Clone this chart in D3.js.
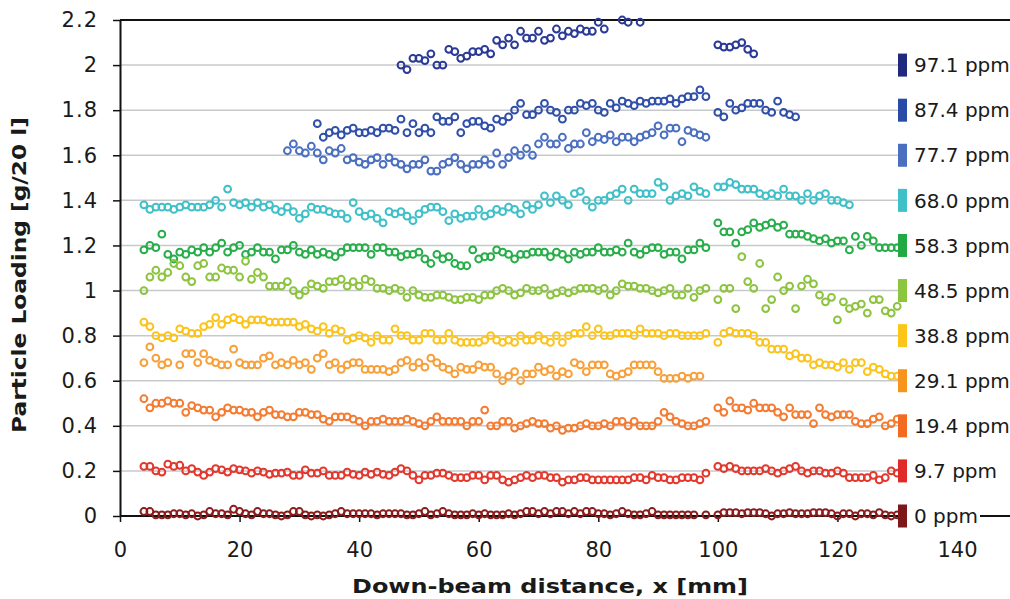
<!DOCTYPE html>
<html><head><meta charset="utf-8">
<script src="https://cdn.jsdelivr.net/npm/d3@7"></script>
<style>
body{margin:0;background:#fff}
svg{display:block}
text{font-family:"DejaVu Sans",Verdana,sans-serif;fill:#1a1a1a}
</style>
</head><body>
<svg id="chart" width="1010" height="599"></svg>
<script>
const _ = null;
// measurement positions (mm)
const xPositions = [4,5,6,7,8,9,10,11,12,13, 14,15,16,17,18,19,20,21,22,23, 24,25,26,27,28,29,30,31,32,33,
 34,35,36,37,38,39,40,41,42,43, 44,45,46,47,48,49,50,51,52,53, 54,55,56,57,58,59,60,61,62,63,
 64,65,66,67,68,69,70,71,72,73, 74,75,76,77,78,79,80,81,82,83, 84,85,86,87,88,89,90,91,92,93, 94,95,96,97,98,
 100,101,102,103,104,105,106,107,108,109, 110,111,112,113,114,115,116,117,118,119, 120,121,122,123,124,125,126,127,128,129,130];

const yTicks = [0,0.2,0.4,0.6,0.8,1,1.2,1.4,1.6,1.8,2,2.2];
const yTickLabels = ["0","0.2","0.4","0.6","0.8","1","1.2","1.4","1.6","1.8","2","2.2"];
const xTicks = [0,20,40,60,80,100,120,140];
const xTickLabels = ["0","20","40","60","80","100","120","140"];

const seriesNames = ["97.1 ppm","87.4 ppm","77.7 ppm","68.0 ppm","58.3 ppm","48.5 ppm","38.8 ppm","29.1 ppm","19.4 ppm","9.7 ppm","0 ppm"];
const legendLevels = [2.0,1.8,1.6,1.4,1.2,1.0,0.8,0.6,0.4,0.2,0];
const seriesColors = ["#2a3a96","#2f4fa8","#4a6fc0","#3fc0c8","#27ad49","#8cc43f","#fbc41c","#f7a03a","#f47c32","#e2382d","#8a1c1c"];
const legendColors = ["#1f2a7e","#2a4aa8","#4a6fc0","#3fc0c8","#22a845","#8cc63e","#fcc619","#f7941d","#f26b21","#e02a27","#7d1818"];

const s971 = [
 _,_,_,_,_,_,_,_,_,_, _,_,_,_,_,_,_,_,_,_, _,_,_,_,_,_,_,_,_,_,
 _,_,_,_,_,_,_,_,_,_, _,_,_,2.00,1.98,2.03,2.03,2.02,2.05,2.00,
 2.00,2.07,2.06,2.03,2.04,2.06,2.06,2.07,2.05,2.11, 2.09,2.12,2.09,2.15,2.12,2.12,2.15,2.11,2.12,2.16,
 2.13,2.15,2.14,2.16,2.15,2.15,2.19,2.16,_,_, 2.20,2.19,_,2.19,_,_,_,_,_,_, _,_,_,_,_,
 2.09,2.08,2.08,2.09,2.10,2.07,2.05,_,_,_, _,_,_,_,_,_,_,_,_,_, _,_,_,_,_,_,_,_,_,_,_];
const s874 = [
 _,_,_,_,_,_,_,_,_,_, _,_,_,_,_,_,_,_,_,_, _,_,_,_,_,_,_,_,_,1.74,
 1.68,1.70,1.71,1.69,1.71,1.72,1.70,1.70,1.71,1.70, 1.72,1.72,1.71,1.76,1.70,1.74,1.70,1.72,1.70,1.77,
 1.75,1.75,1.77,1.70,1.74,1.75,1.75,1.73,1.72,1.76, 1.75,1.77,1.80,1.83,1.78,1.78,1.80,1.83,1.80,1.79,
 1.76,1.80,1.80,1.83,1.82,1.83,1.80,1.79,1.83,1.81, 1.84,1.83,1.82,1.84,1.83,1.84,1.84,1.84,1.85,1.83, 1.85,1.86,1.86,1.89,1.86,
 1.79,1.77,1.83,1.80,1.81,1.83,1.83,1.83,1.80,1.79, 1.84,1.79,1.78,1.77,_,_,_,_,_,_, _,_,_,_,_,_,_,_,_,_,_];
const s777 = [
 _,_,_,_,_,_,_,_,_,_, _,_,_,_,_,_,_,_,_,_, _,_,_,_,1.62,1.65,1.62,1.61,1.64,1.61,
 1.58,1.62,1.61,1.63,1.58,1.59,1.57,1.56,1.58,1.59, 1.56,1.59,1.57,1.56,1.54,1.56,1.56,1.58,1.53,1.53,
 1.56,1.57,1.59,1.56,1.54,1.56,1.56,1.58,1.56,1.61, 1.56,1.59,1.62,1.60,1.63,1.60,1.65,1.68,1.65,1.65,
 1.68,1.63,1.65,1.65,1.70,1.66,1.68,1.67,1.69,1.66, 1.68,1.68,1.66,1.68,1.69,1.70,1.73,1.69,1.72,1.72, 1.66,1.71,1.70,1.69,1.68,
 _,_,_,_,_,_,_,_,_,_, _,_,_,_,_,_,_,_,_,_, _,_,_,_,_,_,_,_,_,_,_];
const s680 = [
 1.38,1.36,1.37,1.37,1.37,1.36,1.37,1.38,1.37,1.37, 1.37,1.38,1.40,1.37,1.45,1.39,1.38,1.39,1.37,1.39, 1.37,1.38,1.36,1.35,1.37,1.35,1.32,1.34,1.37,1.36,
 1.36,1.35,1.34,1.34,1.32,1.39,1.35,1.33,1.34,1.32, 1.30,1.35,1.34,1.35,1.33,1.31,1.34,1.36,1.37,1.37,
 1.35,1.31,1.34,1.32,1.33,1.33,1.36,1.33,1.34,1.36, 1.35,1.37,1.36,1.34,1.38,1.36,1.38,1.42,1.39,1.42,
 1.40,1.38,1.43,1.44,1.40,1.37,1.40,1.40,1.42,1.43, 1.45,1.40,1.45,1.43,1.43,1.43,1.48,1.46,1.40,1.42, 1.43,1.42,1.46,1.44,1.43,
 1.46,1.46,1.48,1.47,1.45,1.45,1.45,1.43,1.42,1.43, 1.42,1.45,1.42,1.42,1.40,1.43,1.40,1.42,1.43,1.40, 1.40,1.39,1.38,_,_,_,_,_,_,_,_];
const s583 = [
 1.18,1.20,1.19,1.25,1.16,1.14,1.17,1.16,1.18,1.17, 1.19,1.17,1.19,1.21,1.17,1.19,1.20,1.16,1.17,1.19, 1.17,1.17,1.14,1.18,1.18,1.20,1.17,1.16,1.18,1.16,
 1.17,1.16,1.15,1.17,1.19,1.19,1.19,1.19,1.16,1.19, 1.19,1.17,1.17,1.15,1.16,1.16,1.17,1.14,1.12,1.16,
 1.14,1.15,1.12,1.11,1.11,1.18,1.14,1.15,1.15,1.18, 1.17,1.16,1.14,1.16,1.16,1.17,1.17,1.17,1.15,1.17,
 1.16,1.14,1.17,1.16,1.17,1.17,1.19,1.17,1.17,1.18, 1.17,1.21,1.17,1.16,1.18,1.19,1.19,1.16,1.17,1.17, 1.14,1.18,1.18,1.21,1.19,
 1.30,1.26,1.26,1.21,1.26,1.27,1.30,1.28,1.29,1.30, 1.28,1.29,1.25,1.25,1.25,1.24,1.23,1.22,1.23,1.21, 1.22,1.22,1.18,1.24,1.20,1.24,1.22,1.19,1.19,1.19,1.19];
const s485 = [
 1.00,1.06,1.09,1.06,1.08,1.12,1.11,1.06,1.04,1.11, 1.12,1.06,1.06,1.10,1.09,1.09,1.06,1.13,1.05,1.08, 1.06,1.02,1.02,1.02,1.04,1.00,0.98,1.00,1.03,1.02,
 1.01,1.04,1.04,1.05,1.02,1.04,1.02,1.05,1.04,1.01, 1.01,1.00,1.01,1.00,0.97,1.00,0.98,0.97,0.97,0.98,
 0.98,0.97,0.96,0.96,0.97,0.97,0.96,0.98,0.98,1.00, 1.01,1.00,0.98,0.99,1.01,1.00,1.00,1.01,0.98,0.99,
 1.00,0.99,1.00,1.01,1.01,1.01,1.00,1.01,0.98,1.00, 1.03,1.02,1.02,1.01,1.01,1.00,0.99,1.00,1.01,0.98, 0.98,1.01,0.97,1.00,1.01,
 0.96,1.01,1.01,0.92,1.15,1.04,1.01,1.12,0.92,0.96, 1.06,1.00,1.02,0.92,1.02,1.05,1.03,0.98,0.95,0.97, 0.87,0.95,0.92,0.93,0.94,0.90,0.96,0.96,0.91,0.90,0.93];
const s388 = [
 0.86,0.84,0.80,0.79,0.80,0.79,0.83,0.82,0.81,0.81, 0.84,0.85,0.88,0.85,0.87,0.88,0.87,0.85,0.87,0.87, 0.87,0.86,0.86,0.86,0.86,0.86,0.84,0.85,0.83,0.82,
 0.84,0.81,0.83,0.82,0.78,0.79,0.80,0.79,0.77,0.80, 0.78,0.78,0.83,0.80,0.80,0.78,0.78,0.81,0.81,0.78,
 0.78,0.81,0.78,0.77,0.77,0.77,0.77,0.78,0.80,0.78, 0.77,0.78,0.77,0.80,0.78,0.78,0.80,0.78,0.77,0.80,
 0.77,0.80,0.81,0.81,0.84,0.80,0.83,0.80,0.80,0.81, 0.81,0.81,0.80,0.83,0.81,0.81,0.81,0.80,0.81,0.81, 0.80,0.80,0.80,0.80,0.81,
 0.77,0.81,0.82,0.81,0.81,0.81,0.80,0.77,0.77,0.74, 0.74,0.74,0.71,0.72,0.70,0.70,0.67,0.68,0.67,0.67, 0.66,0.68,0.65,0.68,0.68,0.64,0.66,0.65,0.63,0.62,0.62];
const s291 = [
 0.68,0.75,0.70,0.67,0.68,_,0.67,0.72,0.72,0.68, 0.72,0.69,0.68,0.67,0.67,0.74,0.68,0.67,0.67,0.67, 0.70,0.71,0.67,0.68,0.67,0.69,0.67,0.68,0.65,0.70,
 0.72,0.67,0.68,0.65,0.67,0.68,0.68,0.65,0.65,0.65, 0.65,0.64,0.65,0.68,0.69,0.66,0.68,0.66,0.70,0.68,
 0.66,0.65,0.63,0.66,0.65,0.65,0.67,0.66,0.66,0.63, 0.60,0.62,0.64,0.60,0.63,0.63,0.66,0.64,0.65,0.62,
 0.64,0.63,0.68,0.67,0.64,0.67,0.67,0.67,0.63,0.62, 0.63,0.64,0.67,0.67,0.67,0.67,0.64,0.61,0.61,0.61, 0.62,0.61,0.62,0.62,_,
 _,_,_,_,_,_,_,_,_,_, _,_,_,_,_,_,_,_,_,_, _,_,_,_,_,_,_,_,_,_,_];
const s194 = [
 0.52,0.48,0.50,0.50,0.51,0.50,0.50,0.46,0.49,0.48, 0.47,0.47,0.44,0.46,0.48,0.47,0.47,0.46,0.46,0.44, 0.46,0.47,0.45,0.45,0.44,0.44,0.46,0.46,0.45,0.45,
 0.43,0.42,0.44,0.44,0.44,0.43,0.42,0.40,0.42,0.42, 0.43,0.42,0.42,0.42,0.43,0.42,0.41,0.40,0.42,0.44,
 0.42,0.42,0.42,0.42,0.40,0.42,0.42,0.47,0.40,0.40, 0.42,0.42,0.39,0.40,0.41,0.42,0.41,0.41,0.39,0.40,
 0.38,0.39,0.39,0.40,0.41,0.40,0.40,0.41,0.40,0.42, 0.42,0.40,0.42,0.40,0.40,0.40,0.42,0.46,0.44,0.42, 0.41,0.40,0.40,0.41,0.42,
 0.48,0.46,0.51,0.48,0.48,0.47,0.50,0.48,0.48,0.48, 0.46,0.44,0.48,0.45,0.45,0.45,0.41,0.48,0.45,0.44, 0.45,0.45,0.45,0.42,0.41,0.41,0.43,0.44,0.40,0.41,0.43];
const s097 = [
 0.22,0.22,0.20,0.195,0.23,0.22,0.225,0.20,0.21,0.195, 0.18,0.195,0.21,0.205,0.195,0.21,0.205,0.20,0.19,0.20, 0.195,0.185,0.19,0.19,0.195,0.18,0.18,0.205,0.19,0.19,
 0.20,0.18,0.18,0.18,0.195,0.185,0.18,0.195,0.185,0.195, 0.185,0.18,0.195,0.21,0.20,0.18,0.16,0.18,0.18,0.19,
 0.19,0.18,0.17,0.17,0.17,0.18,0.18,0.16,0.18,0.18, 0.16,0.15,0.16,0.17,0.18,0.17,0.18,0.18,0.17,0.17,
 0.15,0.16,0.16,0.17,0.17,0.16,0.16,0.16,0.16,0.16, 0.16,0.16,0.17,0.17,0.16,0.18,0.17,0.17,0.16,0.16, 0.17,0.17,0.17,0.16,0.19,
 0.22,0.21,0.22,0.21,0.20,0.20,0.20,0.20,0.21,0.20, 0.19,0.20,0.21,0.22,0.20,0.19,0.20,0.20,0.19,0.19, 0.20,0.19,0.17,0.17,0.17,0.17,0.18,0.16,0.17,0.20,0.19];
const s000 = [
 0.02,0.02,0.005,0.005,0.005,0.01,0.01,0.005,0.01,0.0, 0.005,0.02,0.01,0.01,0.005,0.03,0.02,0.01,0.005,0.02, 0.01,0.01,0.005,0.0,0.005,0.02,0.02,0.005,0.0,0.005,
 0.0,0.005,0.01,0.02,0.01,0.01,0.01,0.01,0.01,0.005, 0.01,0.01,0.01,0.01,0.005,0.005,0.01,0.02,0.005,0.01,
 0.02,0.01,0.005,0.005,0.005,0.01,0.005,0.01,0.005,0.005, 0.005,0.01,0.005,0.01,0.02,0.02,0.01,0.02,0.01,0.02,
 0.02,0.01,0.02,0.01,0.02,0.02,0.01,0.01,0.005,0.01, 0.02,0.01,0.005,0.005,0.01,0.02,0.005,0.005,0.005,0.005, 0.005,0.005,0.005,_,0.005,
 0.005,0.015,0.015,0.015,0.01,0.015,0.015,0.015,0.01,0.0, 0.01,0.01,0.015,0.01,0.01,0.01,0.015,0.015,0.015,0.01, 0.0,0.01,0.01,0.0,0.01,0.01,0.005,0.015,0.005,0.0,0.005];

const seriesValues = [s971,s874,s777,s680,s583,s485,s388,s291,s194,s097,s000];

const svg = d3.select("#chart");
const x = d3.scaleLinear().domain([0,140]).range([120,957]);
const y = d3.scaleLinear().domain([0,2.2]).range([516,20]);
const plotRight = 898;

// gridlines
svg.append("g").selectAll("line").data(yTicks.filter(v => v > 0 && v < 2.2)).join("line")
  .attr("x1", 120).attr("x2", plotRight).attr("y1", d => y(d)).attr("y2", d => y(d))
  .attr("stroke", "#c6c9cc").attr("stroke-width", 1.5);

// top border
svg.append("line").attr("x1",120).attr("x2",1010).attr("y1",y(2.2)).attr("y2",y(2.2))
  .attr("stroke","#111").attr("stroke-width",2);

// y axis
const yAxis = svg.append("g").attr("transform","translate(120,0)")
  .call(d3.axisLeft(y).tickValues(yTicks).tickSize(7).tickSizeOuter(0).tickPadding(15)
    .tickFormat((d,i) => yTickLabels[i]));
yAxis.select(".domain").attr("stroke","#111").attr("stroke-width",2);
yAxis.selectAll(".tick line").attr("stroke","#111").attr("stroke-width",1.5);
yAxis.selectAll("text").attr("font-size",21).attr("fill","#1a1a1a")
  .style("letter-spacing","1px")
  .style("font-family","'DejaVu Sans',sans-serif");

// x axis
const xAxis = svg.append("g").attr("transform","translate(0,516)")
  .call(d3.axisBottom(x).tickValues(xTicks).tickSize(6).tickSizeOuter(0).tickPadding(20)
    .tickFormat((d,i) => xTickLabels[i]));
xAxis.select(".domain").remove();
xAxis.selectAll(".tick line").attr("stroke","#111").attr("stroke-width",1.5)
  .attr("opacity", d => d === 140 ? 0 : 1);
xAxis.selectAll("text").attr("font-size",21).attr("fill","#1a1a1a")
  .style("font-family","'DejaVu Sans',sans-serif");
svg.append("line").attr("x1",120).attr("x2",plotRight).attr("y1",y(0)).attr("y2",y(0))
  .attr("stroke","#111").attr("stroke-width",2);
svg.append("line").attr("x1",980).attr("x2",1010).attr("y1",y(0)).attr("y2",y(0))
  .attr("stroke","#111").attr("stroke-width",2);

// series
seriesValues.forEach((vals, si) => {
  const pts = xPositions.map((xv, i) => ({x: xv, v: vals[i]})).filter(d => d.v !== null);
  svg.append("g").selectAll("circle").data(pts).join("circle")
    .attr("cx", d => x(d.x)).attr("cy", d => y(d.v)).attr("r", 3.4)
    .attr("fill", "none").attr("stroke", seriesColors[si]).attr("stroke-width", 2);
});

// legend markers & labels
const lg = svg.append("g");
lg.selectAll("rect").data(seriesNames).join("rect")
  .attr("x", plotRight).attr("width", 9).attr("y", (d,i) => y(legendLevels[i]) - 11.5).attr("height", 23)
  .attr("fill", (d,i) => legendColors[i]);
lg.selectAll("text").data(seriesNames).join("text")
  .attr("x", 914).attr("y", (d,i) => y(legendLevels[i])).attr("dy","0.36em")
  .attr("font-size", 20).text(d => d);

// axis titles
svg.append("text").attr("x", 550).attr("y", 593).attr("text-anchor","middle")
  .attr("font-size", 19).attr("font-weight","bold")
  .attr("textLength", 396).attr("lengthAdjust","spacingAndGlyphs")
  .text("Down-beam distance, x [mm]");
svg.append("text").attr("transform","translate(26,275) rotate(-90)").attr("text-anchor","middle")
  .attr("font-size", 19).attr("font-weight","bold")
  .attr("textLength", 316).attr("lengthAdjust","spacingAndGlyphs")
  .text("Particle Loading [g/20 l]");
</script>
</body></html>
